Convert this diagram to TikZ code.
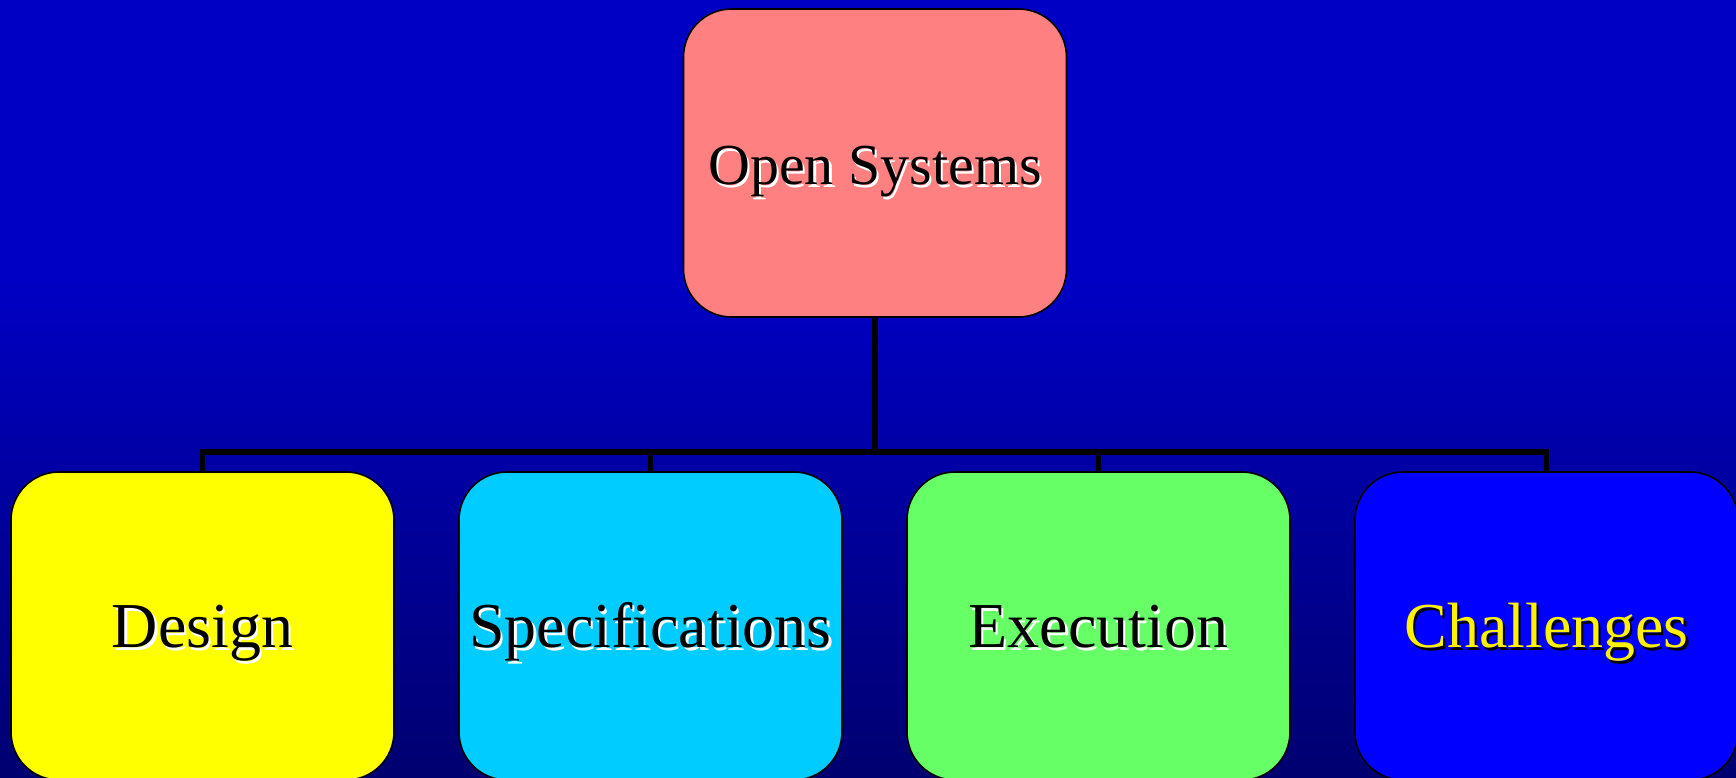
\documentclass[tikz,border=0pt]{standalone}
\usepackage{fontspec}
\setmainfont{Liberation Serif}
\definecolor{bgtop}{HTML}{0000C4}
\definecolor{bgbot}{HTML}{000070}
\definecolor{pinkbox}{HTML}{FF8080}
\definecolor{yellowbox}{HTML}{FFFF00}
\definecolor{cyanbox}{HTML}{00CCFF}
\definecolor{greenbox}{HTML}{66FF66}
\definecolor{bluebox}{HTML}{0000FF}
\newcommand{\shtext}[3]{\makebox[0pt][l]{\hspace{1.1pt}\raisebox{-1.4pt}{\color{#2}#3}}{\color{#1}#3}}
\begin{document}
\begin{tikzpicture}[x=0.5pt,y=-0.5pt,
  box/.style={draw=black, line width=0.8pt, rounded corners=24pt,
    minimum width=191.5pt, minimum height=154pt, inner sep=0pt,
    font=\fontsize{32}{36}\selectfont, text height=21.7pt, text depth=0pt},
  topfont/.style={font=\fontsize{29}{34}\selectfont},
  conn/.style={draw=black, line width=2.6pt, line join=miter}]
\useasboundingbox (0,0) rectangle (1736,777);
\clip (0,0) rectangle (1736,777);
\fill[bgtop] (0,0) rectangle (1736,281);
\shade[top color=bgtop, bottom color=bgbot] (0,280) rectangle (1736,777);
\node[box, topfont, fill=pinkbox] (top) at (875,163) {\shtext{black}{white}{Open Systems}};
\node[box, fill=yellowbox] (d) at (202.5,626) {\shtext{black}{white}{Design}};
\node[box, fill=cyanbox] (s) at (650.5,626) {\shtext{black}{white}{Specifications}};
\node[box, fill=greenbox] (e) at (1098.5,626) {\shtext{black}{white}{Execution}};
\node[box, fill=bluebox] (c) at (1546.5,626) {\shtext{yellow}{black}{Challenges}};
\coordinate (bus) at (875,452);
\draw[conn] (top.south) -- (bus);
\draw[conn] (d.north) -- (d.north |- bus) -- (c.north |- bus) -- (c.north);
\draw[conn] (s.north) -- (s.north |- bus);
\draw[conn] (e.north) -- (e.north |- bus);
\end{tikzpicture}
\end{document}
